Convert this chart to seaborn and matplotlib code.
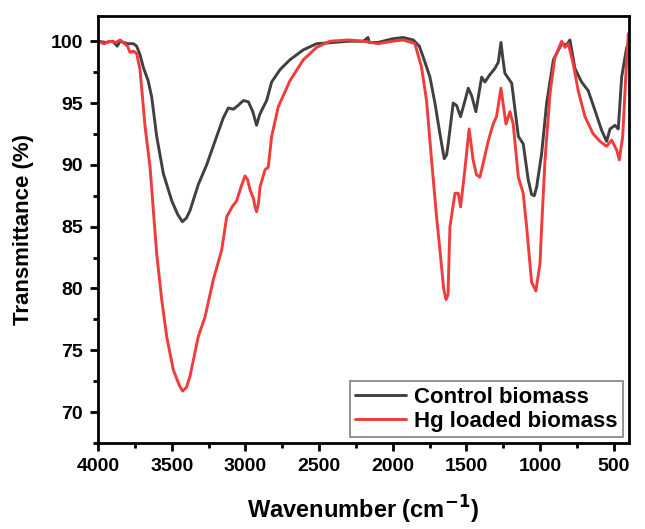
import matplotlib
matplotlib.use("Agg")
import matplotlib.pyplot as plt
from matplotlib.ticker import MultipleLocator
import seaborn as sns
import pandas as pd

sns.set_style("ticks")
plt.rcParams['font.family'] = ['Liberation Sans', 'DejaVu Sans']
plt.rcParams['font.weight'] = 'bold'
plt.rcParams['text.color'] = 'black'
plt.rcParams['axes.labelcolor'] = 'black'
plt.rcParams['xtick.color'] = 'black'
plt.rcParams['ytick.color'] = 'black'
plt.rcParams['mathtext.default'] = 'bf'

# Control biomass (wavenumber cm-1, transmittance %)
control_wn = [4000, 3950, 3900, 3870, 3850, 3800, 3760, 3738, 3715, 3693, 3660, 3636,
              3602, 3557, 3500, 3460, 3428, 3400, 3376, 3320, 3263, 3195, 3150, 3116,
              3082, 3050, 3014, 2980, 2950, 2924, 2905, 2890, 2856, 2822, 2765, 2698,
              2607, 2517, 2400, 2300, 2200, 2168, 2160, 2100, 2000, 1929, 1861, 1820,
              1793, 1748, 1714, 1680, 1651, 1635, 1624, 1590, 1567, 1540, 1510, 1488,
              1465, 1436, 1397, 1375, 1341, 1307, 1284, 1266, 1252, 1239, 1193, 1148,
              1115, 1081, 1058, 1040, 1024, 990, 956, 910, 854, 821, 798, 764, 719, 674,
              628, 583, 549, 526, 492, 470, 447, 413, 400]
control_t = [100.0, 99.9, 100.0, 99.6, 100.0, 99.8, 99.8, 99.6, 98.9, 97.9, 96.8, 95.5,
             92.3, 89.3, 87.1, 86.0, 85.4, 85.7, 86.3, 88.4, 90.0, 92.3, 93.8, 94.6,
             94.5, 94.8, 95.2, 95.1, 94.3, 93.2, 94.0, 94.4, 95.2, 96.7, 97.7, 98.5,
             99.3, 99.8, 99.9, 100.0, 100.0, 100.3, 99.9, 99.9, 100.2, 100.3, 100.1, 99.6,
             98.7, 97.1, 95.0, 92.5, 90.5, 90.8, 91.7, 95.0, 94.8, 93.9, 95.2, 96.2,
             95.6, 94.3, 97.1, 96.7, 97.3, 97.8, 98.3, 99.9, 98.5, 97.4, 96.6, 92.3,
             91.7, 88.8, 87.6, 87.5, 88.2, 90.9, 95.0, 98.5, 99.8, 99.7, 100.1, 97.8, 96.7, 96.0,
             94.4, 92.8, 91.9, 92.9, 93.2, 92.9, 97.1, 99.5, 99.6]

# Hg loaded biomass
hg_wn = [4000, 3960, 3920, 3880, 3850, 3820, 3800, 3783, 3760, 3738, 3715, 3681,
         3647, 3602, 3568, 3534, 3489, 3450, 3426, 3400, 3376, 3320, 3274, 3218,
         3161, 3127, 3090, 3059, 3030, 3003, 2985, 2969, 2946, 2935, 2924, 2910, 2901,
         2867, 2845, 2822, 2777, 2698, 2607, 2517, 2426, 2300, 2200, 2100, 2000,
         1929, 1850, 1805, 1771, 1737, 1703, 1680, 1655, 1639, 1625, 1617, 1612,
         1578, 1556, 1540, 1511, 1482, 1455, 1432, 1409, 1387, 1353, 1319, 1296,
         1266, 1232, 1205, 1183, 1148, 1115, 1092, 1058, 1029, 1001, 990, 967, 933,
         900, 854, 832, 809, 776, 742, 696, 640, 594, 549, 515, 481, 463, 440, 413,
         402]
hg_t = [100.0, 99.8, 100.0, 99.9, 100.1, 99.8, 99.6, 99.1, 99.2, 99.0, 97.7, 93.1,
        89.8, 82.8, 79.1, 76.1, 73.4, 72.2, 71.7, 72.0, 72.9, 76.1, 77.7, 80.7,
        83.1, 85.8, 86.6, 87.1, 88.2, 89.1, 88.8, 88.0, 87.3, 86.6, 86.2, 87.0, 88.2,
        89.6, 89.8, 92.3, 94.7, 96.8, 98.5, 99.5, 100.0, 100.1, 100.0, 99.8, 100.0,
        100.1, 99.8, 97.9, 95.2, 90.4, 85.8, 83.1, 80.0, 79.1, 79.5, 83.1, 85.0,
        87.7, 87.7, 86.6, 89.6, 92.9, 90.4, 89.2, 89.0, 90.1, 91.9, 93.3, 93.9,
        96.2, 93.3, 94.3, 93.3, 89.0, 87.7, 85.0, 80.5, 79.8, 82.0, 85.0, 90.4, 95.8,
        98.7, 100.0, 99.5, 99.8, 98.2, 96.0, 93.9, 92.5, 91.9, 91.5, 92.0, 91.2, 90.4, 92.3, 98.5,
        100.6]

series_names = ["Control biomass", "Hg loaded biomass"]
series_colors = ["#404040", "#f03c3c"]

df = pd.concat([
    pd.DataFrame({"wn": control_wn, "t": control_t, "series": series_names[0]}),
    pd.DataFrame({"wn": hg_wn, "t": hg_t, "series": series_names[1]}),
], ignore_index=True)

fig = plt.figure(figsize=(6.45, 5.29), dpi=100)
ax = fig.add_axes([0.152, 0.1626, 0.823, 0.8074])

sns.lineplot(data=df, x="wn", y="t", hue="series", palette=series_colors,
             sort=False, estimator=None, linewidth=2.1, ax=ax)

ax.set_xlim(4000, 398)
ax.set_ylim(67.5, 102.05)
ax.xaxis.set_major_locator(MultipleLocator(500))
ax.xaxis.set_minor_locator(MultipleLocator(250))
ax.yaxis.set_major_locator(MultipleLocator(5))
ax.yaxis.set_minor_locator(MultipleLocator(2.5))
ax.tick_params(which='major', direction='out', length=6, width=2, labelsize=14, pad=5)
ax.tick_params(which='minor', direction='out', length=3.5, width=2)
for lab in ax.get_xticklabels() + ax.get_yticklabels():
    lab.set_fontweight('bold')
for s in ax.spines.values():
    s.set_linewidth(2)
    s.set_color('black')

ax.set_xlabel("Wavenumber (cm$^{-1}$)", fontsize=17, fontweight='bold', labelpad=13)
ax.set_ylabel("Transmittance (%)", fontsize=16, fontweight='bold', labelpad=12)

handles, labels = ax.get_legend_handles_labels()
leg = ax.legend(handles, labels, loc='lower right', frameon=True,
                fancybox=False, edgecolor='#808080', framealpha=1,
                borderaxespad=0.25, borderpad=0.25, handlelength=2.3,
                handletextpad=0.35, labelspacing=0.15,
                prop={'weight': 'bold', 'size': 16})
leg.get_frame().set_linewidth(1.2)

fig.savefig("out.png", dpi=100)
